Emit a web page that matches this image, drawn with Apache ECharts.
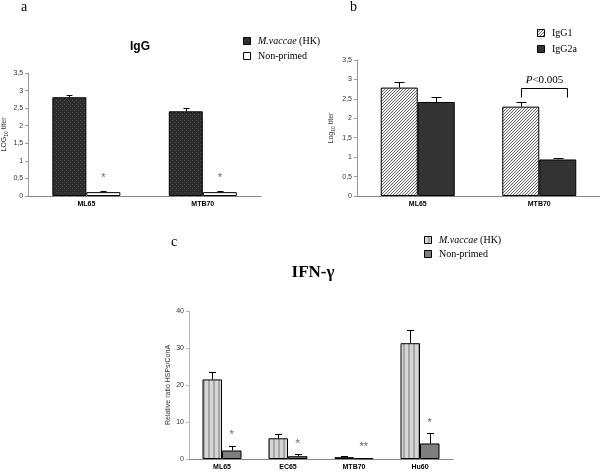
<!DOCTYPE html>
<html><head><meta charset="utf-8">
<script src="https://cdn.jsdelivr.net/npm/echarts@6/dist/echarts.min.js"></script>
<style>html,body{margin:0;padding:0;background:#fff}#c{width:600px;height:473px}</style>
</head><body><div id="c"></div>
<script>
// ---- data ----
const categoriesA = ['ML65', 'MTB70'];
const mvaccaeA = [2.81, 2.41];
const mvaccaeErrA = [0.07, 0.10];
const nonPrimedA = [0.11, 0.11];
const nonPrimedErrA = [0.02, 0.02];
const sigA = ['*', '*'];

const categoriesB = ['ML65', 'MTB70'];
const igg1B = [2.79, 2.30];
const igg1ErrB = [0.15, 0.11];
const igg2aB = [2.42, 0.94];
const igg2aErrB = [0.12, 0.04];

const categoriesC = ['ML65', 'EC65', 'MTB70', 'Hu60'];
const mvaccaeC = [21.5, 5.6, 0.5, 31.3];
const mvaccaeErrC = [1.9, 1.1, 0.2, 3.7];
const nonPrimedC = [2.3, 0.75, 0.2, 4.2];
const nonPrimedErrC = [1.3, 0.55, 0.1, 2.7];
const sigC = ['*', '*', '**', '*'];

// ---- patterns ----
function pat(w, h, draw) {
  const c = document.createElement('canvas'); c.width = w; c.height = h;
  const g = c.getContext('2d'); draw(g); return { image: c, repeat: 'repeat' };
}
const darkDots = pat(4, 4, g => { g.fillStyle = '#2c2c2c'; g.fillRect(0,0,4,4); g.fillStyle = '#4a4a4a'; g.fillRect(0,0,1,1); g.fillRect(2,2,1,1); });
const hatch = pat(3, 3, g => { g.fillStyle = '#f0f0f0'; g.fillRect(0,0,3,3); g.fillStyle = '#707070'; g.fillRect(2,0,1,1); g.fillRect(1,1,1,1); g.fillRect(0,2,1,1); });
const stripes = pat(5, 5, g => { g.fillStyle = '#d6d6d6'; g.fillRect(0,0,5,5); g.fillStyle = '#a6a6a6'; g.fillRect(3,0,2,5); });
const solidDark = '#333333';
const midGray = '#7f7f7f';

const SANS = 'Liberation Sans';
const SERIF = 'Liberation Serif';

function errSeries(xi, vals, errs, offset, capHalf, sig, sigGap) {
  return {
    type: 'custom', xAxisIndex: xi, yAxisIndex: xi, silent: true, z: 10,
    data: vals.map((v, i) => [i, v, errs[i]]),
    renderItem: (params, api) => {
      const i = params.dataIndex;
      const base = api.coord([i, vals[i]]);
      const top = api.coord([i, vals[i] + errs[i]]);
      const x = Math.round(base[0] + offset) + 0.5;
      const ty = Math.round(top[1]) + 0.5;
      const ch = [
        { type: 'line', shape: { x1: x, y1: base[1], x2: x, y2: ty }, style: { stroke: '#000', lineWidth: 1 } },
        { type: 'line', shape: { x1: x - capHalf, y1: ty, x2: x + capHalf, y2: ty }, style: { stroke: '#000', lineWidth: 1 } }
      ];
      if (sig) ch.push({ type: 'text', x: base[0] + offset, y: top[1] - sigGap,
        style: { text: sig[i], align: 'center', verticalAlign: 'bottom', font: '11px ' + SANS, fill: '#666' } });
      return { type: 'group', children: ch };
    }
  };
}

function bracketSeries() {
  return {
    type: 'custom', xAxisIndex: 1, yAxisIndex: 1, silent: true, z: 10,
    data: [[1, igg1B[1] + igg1ErrB[1]]],
    renderItem: (params, api) => {
      const p = api.coord([1, igg1B[1] + igg1ErrB[1]]);
      const xl = Math.round(p[0] - 18) + 0.5, xr = Math.round(p[0] + 28) + 0.5;
      const yb = Math.round(p[1] - 5) + 0.5, yt = Math.round(p[1] - 14) + 0.5;
      return { type: 'group', children: [
        { type: 'polyline', shape: { points: [[xl, yb], [xl, yt], [xr, yt], [xr, yb]] }, style: { stroke: '#000', lineWidth: 1, fill: null } },
        { type: 'text', x: (xl + xr) / 2, y: yt - 3, style: { text: '{i|P}<0.005', align: 'center', verticalAlign: 'bottom', font: '11px ' + SERIF, fill: '#000', rich: { i: { fontStyle: 'italic', fontFamily: SERIF, fontSize: 11 } } } }
      ]};
    }
  };
}

function xAx(gi, cats) {
  return {
    type: 'category', gridIndex: gi, data: cats,
    axisLine: { lineStyle: { color: '#888', width: 1 } },
    axisTick: { length: 3, lineStyle: { color: '#888' } },
    axisLabel: { fontFamily: SANS, fontWeight: 'bold', fontSize: 7, color: '#000', margin: 5 }
  };
}
function yAx(gi, max, interval, name, nameGap, fmt, lineColor) {
  return {
    type: 'value', gridIndex: gi, min: 0, max: max, interval: interval,
    splitLine: { show: false },
    axisLine: { show: true, lineStyle: { color: lineColor, width: 1 } },
    axisTick: { show: true, length: 3, lineStyle: { color: lineColor } },
    axisLabel: { fontFamily: SANS, fontSize: 7, color: '#333', margin: 5, formatter: fmt },
    name: name, nameLocation: 'middle', nameRotate: 90, nameGap: nameGap,
    nameTextStyle: { fontFamily: SANS, fontSize: 7, color: '#333',
      rich: { n: { fontFamily: SANS, fontSize: 7, color: '#333', lineHeight: 10 },
              s: { fontFamily: SANS, fontSize: 5, color: '#333', verticalAlign: 'bottom', lineHeight: 10, padding: [3, 0, 0, 0] } } }
  };
}
const comma = v => String(v).replace('.', ',');

function legendItem(x, y, fill, text) {
  return [
    { type: 'rect', shape: { x: x + 0.5, y: y - 3.5, width: 7, height: 7 }, style: { fill: fill, stroke: '#000', lineWidth: 1 } },
    { type: 'text', x: x + 15, y: y, style: { text: text, font: '10px ' + SERIF, fill: '#000', verticalAlign: 'middle',
      rich: { i: { fontStyle: 'italic', fontFamily: SERIF, fontSize: 10 }, r: { fontFamily: SERIF, fontSize: 10 } } } }
  ];
}

const chart = echarts.init(document.getElementById('c'), null, { renderer: 'canvas' });
chart.setOption({
  animation: false,
  backgroundColor: '#fff',
  textStyle: { fontFamily: SANS },
  grid: [
    { left: 25, top: 73, width: 236, height: 123 },
    { left: 357, top: 60, width: 244, height: 136 },
    { left: 189, top: 311, width: 264, height: 148 }
  ],
  xAxis: [xAx(0, categoriesA), xAx(1, categoriesB), xAx(2, categoriesC)],
  yAxis: [
    yAx(0, 3.5, 0.5, '{n|LOG}{s|10}{n| titer}', 17, comma, '#999'),
    yAx(1, 3.5, 0.5, '{n|Log}{s|10}{n| titer}', 21, comma, '#999'),
    yAx(2, 40, 10, 'Relative ratio HSPs/ConA', 17, null, '#bbb')
  ],
  series: [
    { type: 'bar', xAxisIndex: 0, yAxisIndex: 0, data: mvaccaeA, barWidth: 34, barGap: '0%', itemStyle: { color: darkDots, borderColor: '#000', borderWidth: 1 } },
    { type: 'bar', xAxisIndex: 0, yAxisIndex: 0, data: nonPrimedA, barWidth: 34, barGap: '0%', itemStyle: { color: '#fff', borderColor: '#000', borderWidth: 1 } },
    errSeries(0, mvaccaeA, mvaccaeErrA, -17, 3),
    errSeries(0, nonPrimedA, nonPrimedErrA, 17, 3, sigA, 8),

    { type: 'bar', xAxisIndex: 1, yAxisIndex: 1, data: igg1B, barWidth: 37, barGap: '0%', itemStyle: { color: hatch, borderColor: '#000', borderWidth: 1 } },
    { type: 'bar', xAxisIndex: 1, yAxisIndex: 1, data: igg2aB, barWidth: 37, barGap: '0%', itemStyle: { color: solidDark, borderColor: '#000', borderWidth: 1 } },
    errSeries(1, igg1B, igg1ErrB, -18.5, 5),
    errSeries(1, igg2aB, igg2aErrB, 18.5, 5),
    bracketSeries(),

    { type: 'bar', xAxisIndex: 2, yAxisIndex: 2, data: mvaccaeC, barWidth: 19.5, barGap: '0%', itemStyle: { color: stripes, borderColor: '#000', borderWidth: 1 } },
    { type: 'bar', xAxisIndex: 2, yAxisIndex: 2, data: nonPrimedC, barWidth: 19.5, barGap: '0%', itemStyle: { color: midGray, borderColor: '#000', borderWidth: 1 } },
    errSeries(2, mvaccaeC, mvaccaeErrC, -9.75, 3.5),
    errSeries(2, nonPrimedC, nonPrimedErrC, 9.75, 3.5, sigC, 5)
  ],
  graphic: [
    { type: 'text', x: 21, y: 0, style: { text: 'a', font: '14px ' + SERIF, fill: '#000' } },
    { type: 'text', x: 350, y: 0, style: { text: 'b', font: '14px ' + SERIF, fill: '#000' } },
    { type: 'text', x: 171, y: 235, style: { text: 'c', font: '14px ' + SERIF, fill: '#000' } },
    { type: 'text', x: 140, y: 47, style: { text: 'IgG', font: 'bold 12px ' + SANS, fill: '#000', align: 'center', verticalAlign: 'middle' } },
    { type: 'text', x: 313, y: 273, style: { text: 'IFN-γ', font: 'bold 17px ' + SERIF, fill: '#000', align: 'center', verticalAlign: 'middle' } },
    ...legendItem(243, 41, darkDots, '{i|M.vaccae}{r| (HK)}'),
    ...legendItem(243, 56, '#fff', 'Non-primed'),
    ...legendItem(537, 33, hatch, 'IgG1'),
    ...legendItem(537, 49, solidDark, 'IgG2a'),
    ...legendItem(424, 240, stripes, '{i|M.vaccae}{r| (HK)}'),
    ...legendItem(424, 254, midGray, 'Non-primed')
  ]
});
</script></body></html>
